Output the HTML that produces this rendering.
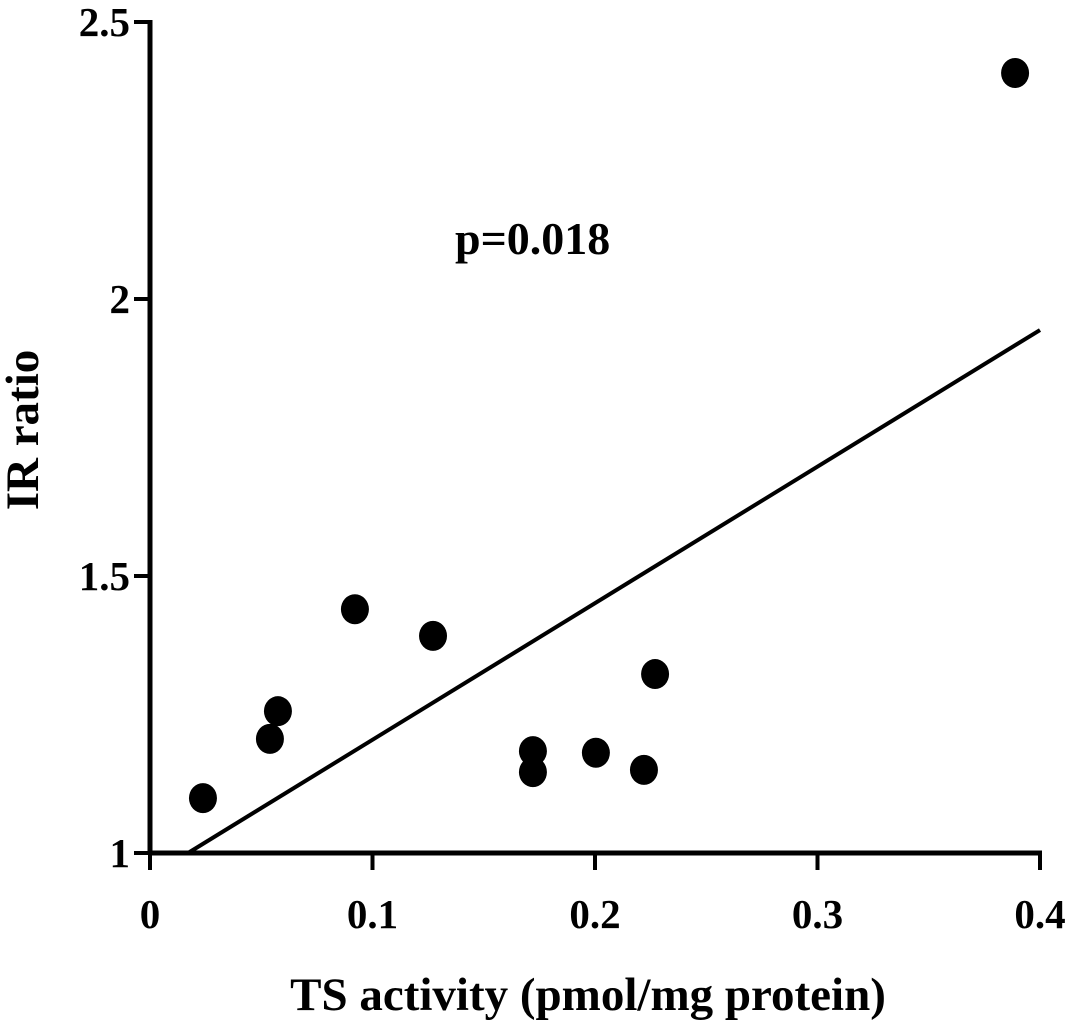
<!DOCTYPE html>
<html><head><meta charset="utf-8"><style>
html,body{margin:0;padding:0;background:#fff;}
svg{display:block;font-family:"Liberation Serif",serif;font-weight:bold;}
</style></head><body>
<svg id="chart" width="1071" height="1026" viewBox="0 0 1071 1026">
<g id="axes"></g><g id="marks"></g>
<text x="455" y="254" font-size="46">p=0.018</text>
<text x="588" y="1010" font-size="47" text-anchor="middle">TS activity (pmol/mg protein)</text>
<text transform="translate(38,430) rotate(-90)" font-size="47" text-anchor="middle">IR ratio</text>
</svg>
<script>
const xVals=[0.0238,0.0539,0.0575,0.0921,0.1272,0.1721,0.1721,0.2004,0.222,0.227,0.3888];
const yVals=[1.099,1.206,1.256,1.440,1.392,1.184,1.146,1.181,1.150,1.323,2.408];
const xTicks=[0,0.1,0.2,0.3,0.4];
const xTickLabels=["0","0.1","0.2","0.3","0.4"];
const yTicks=[1,1.5,2,2.5];
const yTickLabels=["1","1.5","2","2.5"];
const fitLine=[[0.0171,1.0],[0.4,1.944]];
const NS="http://www.w3.org/2000/svg";
const xs=v=>150+v/0.4*890;
const ys=v=>853-(v-1)/1.5*831;
function mk(tag,attrs,parent){const e=document.createElementNS(NS,tag);for(const k in attrs)e.setAttribute(k,attrs[k]);parent.appendChild(e);return e;}
const ax=document.getElementById('axes'),mg=document.getElementById('marks');
let e=mk('line',{x1:150,y1:20,x2:150,y2:855,stroke:'#000','stroke-width':5},ax);


e=mk('line',{x1:148,y1:853,x2:1042,y2:853,stroke:'#000','stroke-width':5},ax);


xTicks.forEach((t,i)=>{
 let l=mk('line',{x1:xs(t),y1:853,x2:xs(t),y2:870,stroke:'#000','stroke-width':4},ax);
 
 
 let tx=mk('text',{x:xs(t),y:928,'font-size':41,'text-anchor':'middle'},ax);
 tx.textContent=xTickLabels[i];
 
 
});
yTicks.forEach((t,i)=>{
 let l=mk('line',{x1:134,y1:ys(t),x2:150,y2:ys(t),stroke:'#000','stroke-width':4},ax);
 
 
 let tx=mk('text',{x:130,y:ys(t)+14,'font-size':41,'text-anchor':'end'},ax);
 tx.textContent=yTickLabels[i];
 
 
});
let fl=mk('line',{x1:xs(fitLine[0][0]),y1:ys(fitLine[0][1]),x2:xs(fitLine[1][0]),y2:ys(fitLine[1][1]),stroke:'#000','stroke-width':4},mg);


xVals.forEach((v,i)=>{
 let c=mk('ellipse',{cx:xs(v),cy:ys(yVals[i]),rx:14,ry:15,fill:'#000'},mg);
 
 
});
</script>
</body></html>
